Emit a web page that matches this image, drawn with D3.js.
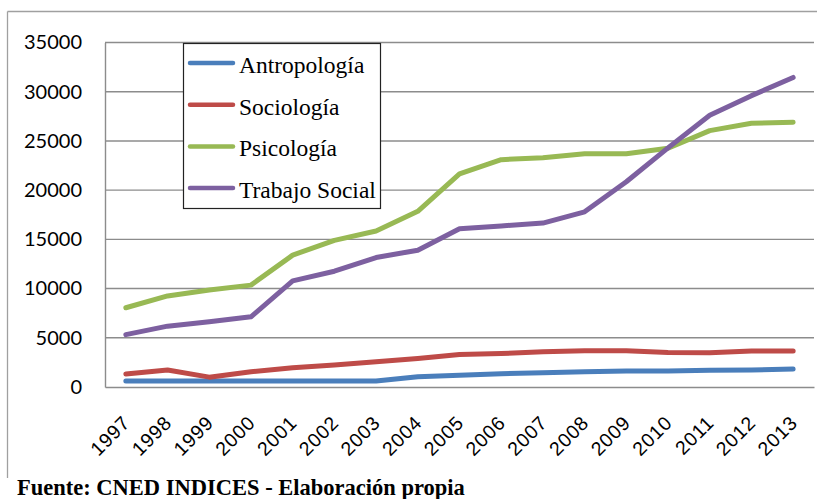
<!DOCTYPE html>
<html><head><meta charset="utf-8">
<script src="https://cdn.jsdelivr.net/npm/d3@7"></script>
<style>body{margin:0;background:#fff}svg{display:block}</style>
</head><body>
<svg id="c" width="817" height="499"></svg>
<script>
const years = ["1997","1998","1999","2000","2001","2002","2003","2004","2005","2006","2007","2008","2009","2010","2011","2012","2013"];
const antropologia = [600,600,600,600,600,600,600,1050,1200,1350,1450,1550,1620,1620,1690,1720,1820];
const sociologia = [1320,1720,1000,1550,1960,2230,2570,2900,3300,3400,3580,3680,3680,3500,3480,3650,3650];
const psicologia = [8050,9250,9850,10350,13400,14900,15850,17850,21650,23100,23300,23700,23700,24250,26050,26800,26900];
const trabajoSocial = [5320,6180,6620,7130,10780,11760,13150,13900,16080,16360,16650,17800,20850,24300,27600,29600,31450];
const seriesNames = ["Antropología","Sociología","Psicología","Trabajo Social"];
const seriesColors = ["#4A7EBB","#BE4B48","#98B954","#7D60A0"];
const yTicks = [0,5000,10000,15000,20000,25000,30000,35000];
const footer = "Fuente: CNED INDICES - Elaboración propia";

const series = [antropologia, sociologia, psicologia, trabajoSocial];
const svg = d3.select("#c");
const L = 105, R = 814, T = 42.5, B = 387;

// outer frame
svg.append("line").attr("x1",7.5).attr("x2",817).attr("y1",11.5).attr("y2",11.5).attr("stroke","#a0a0a0").attr("stroke-width",1.3);
svg.append("line").attr("x1",7.5).attr("x2",7.5).attr("y1",11.5).attr("y2",478).attr("stroke","#a0a0a0").attr("stroke-width",1.3);

const x = d3.scalePoint().domain(years).range([L, R]).padding(0.5);
const y = d3.scaleLinear().domain([0, 35000]).range([B, T]);

// gridlines
svg.append("g").selectAll("line").data(yTicks.filter(d=>d>0)).join("line")
  .attr("x1", L).attr("x2", R).attr("y1", d=>y(d)).attr("y2", d=>y(d))
  .attr("stroke","#8c8c8c").attr("stroke-width",1.4);

// axes
const yAxis = svg.append("g").attr("transform",`translate(${L},0)`)
  .call(d3.axisLeft(y).tickValues(yTicks).tickSize(0).tickPadding(23).tickFormat(d3.format("d")));
yAxis.select(".domain").attr("stroke","#8c8c8c").attr("stroke-width",1.4);
yAxis.selectAll("text").attr("font-family","Lato").attr("font-size",20).attr("fill","#000");

const xAxis = svg.append("g").attr("transform",`translate(0,${B})`)
  .call(d3.axisBottom(x).tickSize(0).tickPadding(0));
xAxis.select(".domain").attr("stroke","#8c8c8c").attr("stroke-width",1.4);
xAxis.selectAll("text")
  .attr("font-family","Liberation Sans").attr("font-size",19.5).attr("letter-spacing",0.8).attr("fill","#000")
  .attr("text-anchor","end").attr("dy",null).attr("y",null)
  .attr("transform","translate(5,37) rotate(-45)");

// lines
const line = d3.line().x((d,i)=>x(years[i])).y(d=>y(d));
svg.append("g").selectAll("path").data(series).join("path")
  .attr("d", line).attr("fill","none")
  .attr("stroke",(d,i)=>seriesColors[i]).attr("stroke-width",5)
  .attr("stroke-linejoin","round").attr("stroke-linecap","round");

// legend
const lg = svg.append("g");
lg.append("rect").attr("x",183.5).attr("y",43.5).attr("width",197).attr("height",165)
  .attr("fill","#fff").attr("stroke","#222").attr("stroke-width",1.2);
const items = lg.selectAll("g.it").data(seriesNames).join("g").attr("class","it")
  .attr("transform",(d,i)=>`translate(0,${63 + i*41.7})`);
items.append("line").attr("x1",190).attr("x2",233).attr("y1",0).attr("y2",0)
  .attr("stroke",(d,i)=>seriesColors[i]).attr("stroke-width",4.5).attr("stroke-linecap","round");
items.append("text").attr("x",239).attr("y",10).text(d=>d)
  .attr("font-family","Liberation Serif").attr("font-size",23.5).attr("fill","#000");

// footer
svg.append("rect").attr("x",0).attr("y",478).attr("width",500).attr("height",21).attr("fill","#fff");
svg.append("text").attr("x",17).attr("y",495).text(footer)
  .attr("font-family","Liberation Serif").attr("font-weight","bold").attr("font-size",22.5).attr("fill","#000");
</script>
</body></html>
